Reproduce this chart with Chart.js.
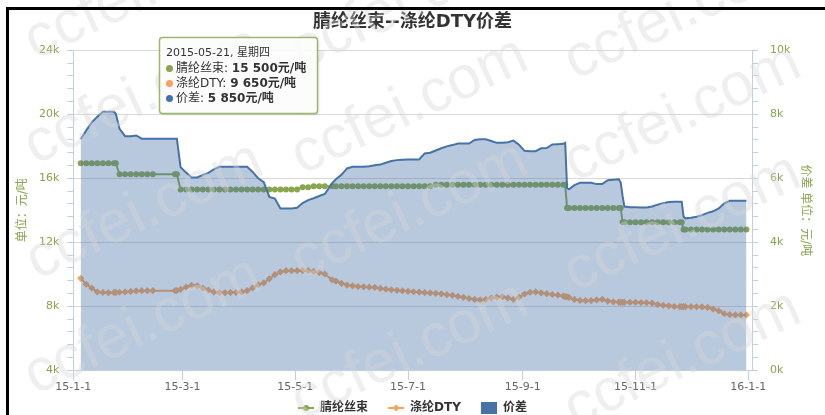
<!DOCTYPE html>
<html>
<head>
<meta charset="utf-8">
<script src="https://cdn.jsdelivr.net/npm/chart.js@4.4.1/dist/chart.umd.min.js"></script>
<style>
  html, body { margin: 0; padding: 0; background: #fff; overflow: hidden; }
  #wrap { position: relative; width: 825px; height: 415px; overflow: hidden; }
  #chart { position: absolute; left: 0; top: 0; }
</style>
</head>
<body>
<div id="wrap"><canvas id="chart" width="825" height="424"></canvas></div>
<script>
const FONT = '"DejaVu Sans", "Noto Sans CJK SC", sans-serif';

const seriesNames = ['腈纶丝束', '涤纶DTY', '价差'];
const seriesColors = ['#89A54E', '#F7A35C', '#4572A7'];
const axisColor = '#89A54E';

// days counted from 2015-01-01
const days = [
  4, 7, 10, 13, 16, 19, 22, 23, 25, 28,
  31, 34, 37, 40, 43, 46, 49, 52, 55, 56,
  58, 61, 64, 67, 70, 73, 76, 79, 82, 85,
  88, 91, 94, 97, 100, 103, 106, 109, 112, 115,
  118, 121, 124, 127, 130, 133, 136, 140, 142, 145,
  148, 151, 154, 157, 160, 163, 166, 169, 172, 175,
  178, 181, 184, 187, 190, 193, 196, 199, 202, 205,
  208, 211, 214, 217, 220, 223, 226, 229, 232, 235,
  238, 241, 244, 247, 250, 253, 256, 259, 262, 265,
  266, 267, 268, 271, 274, 277, 280, 283, 286, 289,
  292, 295, 296, 297, 298, 301, 304, 307, 310, 313,
  316, 319, 322, 325, 328, 329, 330, 331, 334, 337,
  340, 343, 346, 349, 352, 355, 358, 361, 364
];

// 腈纶丝束, 元/吨
const acrylicTow = [
  16950, 16950, 16950, 16950, 16950, 16950, 16950, 16950, 16250, 16250,
  16250, 16250, 16250, 16250, 16250, null, null, null, 16250, 16250,
  15300, 15300, 15300, 15300, 15300, 15300, 15300, 15300, 15300, 15300,
  15300, 15300, 15300, 15300, 15300, 15300, 15300, 15300, 15300, 15300,
  15300, 15300, 15450, 15450, 15500, 15500, 15500, 15500, 15500, 15500,
  15500, 15500, 15500, 15500, 15500, 15500, 15500, 15500, 15500, 15500,
  15500, 15500, 15500, 15500, 15500, 15500, 15600, 15600, 15600, 15600,
  15600, 15600, 15600, 15600, 15600, 15600, 15600, 15600, 15600, 15600,
  15600, 15600, 15600, 15600, 15600, 15600, 15600, 15600, 15600, 15600,
  15600, 14150, 14150, 14150, 14150, 14150, 14150, 14150, 14150, 14150,
  14150, 14150, 14150, 13250, 13250, 13250, 13250, 13250, 13250, 13250,
  13250, 13250, 13250, 13250, 13250, 13250, 12800, 12800, 12800, 12800,
  12800, 12800, 12800, 12800, 12800, 12800, 12800, 12800, 12800
];

// 涤纶DTY, 元/吨
const polyesterDty = [
  9750, 9380, 9140, 8900, 8870, 8850, 8870, 8870, 8880, 8900,
  8930, 8960, 8980, 8980, 8980, null, null, null, 8980, 8990,
  9060, 9200, 9310, 9280, 9140, 9020, 8900, 8870, 8850, 8860,
  8870, 8900, 8980, 9150, 9350, 9460, 9720, 9980, 10150, 10230,
  10230, 10230, 10230, 10230, 10180, 10110, 10020, 9650, 9580, 9440,
  9330, 9280, 9240, 9220, 9200, 9180, 9120, 9070, 9030, 9000,
  8970, 8940, 8910, 8890, 8860, 8840, 8810, 8780, 8730, 8690,
  8620, 8560, 8490, 8430, 8400, 8420, 8520, 8570, 8600, 8520,
  8440, 8580, 8770, 8880, 8900, 8840, 8790, 8740, 8700, 8640,
  8610, 8590, 8560, 8430, 8370, 8350, 8360, 8400, 8440, 8330,
  8280, 8260, 8250, 8250, 8250, 8250, 8250, 8240, 8230, 8200,
  8110, 8060, 8030, 7990, 7980, 7980, 7980, 7980, 7980, 7970,
  7960, 7930, 7830, 7720, 7540, 7480, 7460, 7460, 7460
];

// 价差, 元/吨 (right axis)
const spread = [
  7220, 7500, 7750, 7930, 8080, 8080, 8080, 8020, 7550, 7320,
  7320, 7340, 7240, 7240, 7240, 7240, 7240, 7240, 7240, 7240,
  6350, 6180, 6030, 6030, 6110, 6170, 6280, 6360, 6360, 6360,
  6360, 6360, 6360, 6200, 6000, 5880, 5420, 5370, 5060, 5060,
  5060, 5080, 5230, 5320, 5380, 5450, 5510, 5850, 5970, 6110,
  6310, 6360, 6360, 6360, 6380, 6410, 6430, 6490, 6540, 6570,
  6580, 6590, 6590, 6590, 6780, 6800, 6870, 6940, 7000, 7040,
  7090, 7090, 7090, 7200, 7220, 7220, 7170, 7110, 7110, 7130,
  7180, 7050, 6860, 6850, 6850, 6940, 6950, 7060, 7070, 7080,
  7110, 5700, 5660, 5790, 5860, 5860, 5860, 5820, 5820, 5940,
  5960, 5970, 5870, 5450, 5120, 5100, 5100, 5090, 5090, 5120,
  5180, 5220, 5260, 5270, 5270, 5270, 4800, 4750, 4770, 4800,
  4850, 4920, 4970, 5060, 5220, 5300, 5300, 5300, 5300
];

const tickDays = [0, 59, 120, 181, 243, 304, 365];
const tickLabels = ['15-1-1', '15-3-1', '15-5-1', '15-7-1', '15-9-1', '15-11-1', '16-1-1'];

const tooltipDay = 140;

const watermarkSpots = [
  [28, 45], [28, 150], [30, 265], [28, 380],
  [295, 55], [295, 160], [295, 265], [295, 405],
  [568, 65], [568, 167], [568, 277], [568, 413]
];

function toPoints(values) {
  return days.map((d, i) => ({ x: d, y: values[i] }));
}

function fmt(n) {
  return String(n).replace(/\B(?=(\d{3})+(?!\d))/g, ' ');
}

// legend symbols: 16px wide, drawn on the right half of a 32px canvas
function makeIcon(kind, color) {
  const c = document.createElement('canvas');
  const g = c.getContext('2d');
  c.width = 32;
  if (kind === 'box') {
    c.height = 12;
    g.fillStyle = color;
    g.fillRect(16, 0, 16, 12);
    return c;
  }
  c.height = 8;
  g.strokeStyle = color;
  g.lineWidth = 2;
  g.beginPath(); g.moveTo(16, 4); g.lineTo(32, 4); g.stroke();
  g.fillStyle = color;
  g.beginPath();
  if (kind === 'circle') {
    g.arc(24, 4, 3, 0, Math.PI * 2);
  } else {
    g.moveTo(24, 0.5); g.lineTo(27.5, 4); g.lineTo(24, 7.5); g.lineTo(20.5, 4); g.closePath();
  }
  g.fill();
  return c;
}

const legendIcons = [
  makeIcon('circle', seriesColors[0]),
  makeIcon('diamond', seriesColors[1]),
  makeIcon('box', seriesColors[2])
];

const decorations = {
  id: 'decorations',
  afterLayout(chart) {
    // nudge the legend so the visible symbols sit where the original has them
    chart.legend.left -= 8;
    chart.legend.right -= 8;
  },
  afterDatasetsDraw(chart) {
    const ctx = chart.ctx;
    ctx.save();
    ctx.font = '60px "Liberation Sans", sans-serif';
    ctx.fillStyle = 'rgba(215,215,215,0.4)';
    watermarkSpots.forEach(([x, y]) => {
      ctx.save();
      ctx.translate(x, y);
      ctx.rotate(-25 * Math.PI / 180);
      ctx.fillText('ccfei.com', 0, 0);
      ctx.restore();
    });
    ctx.restore();
  },
  afterDraw(chart) {
    const ctx = chart.ctx;
    ctx.save();

    // tooltip box
    const idx = days.indexOf(tooltipDay);
    const bx = 159.5, by = 37.5, bw = 158, bh = 76;
    ctx.shadowColor = 'rgba(0,0,0,0.18)';
    ctx.shadowOffsetX = 1;
    ctx.shadowOffsetY = 1;
    ctx.shadowBlur = 3;
    ctx.fillStyle = 'rgba(255,255,255,0.92)';
    ctx.beginPath();
    ctx.roundRect(bx, by, bw, bh, 3);
    ctx.fill();
    ctx.shadowColor = 'transparent';
    ctx.strokeStyle = '#9DB86A';
    ctx.lineWidth = 1.5;
    ctx.stroke();

    const d = new Date(Date.UTC(2015, 0, 1 + tooltipDay));
    const wk = ['日', '一', '二', '三', '四', '五', '六'][d.getUTCDay()];
    const dateText = d.getUTCFullYear() + '-' + String(d.getUTCMonth() + 1).padStart(2, '0') + '-' +
      String(d.getUTCDate()).padStart(2, '0') + ', 星期' + wk;
    ctx.textBaseline = 'middle';
    ctx.fillStyle = '#333';
    ctx.font = '11px ' + FONT;
    ctx.fillText(dateText, 166, 53);

    const vals = [acrylicTow[idx], polyesterDty[idx], spread[idx]];
    [68.5, 83.5, 98.5].forEach((y, i) => {
      ctx.fillStyle = seriesColors[i];
      ctx.beginPath();
      ctx.arc(169.5, y, 3.5, 0, Math.PI * 2);
      ctx.fill();
      ctx.fillStyle = '#333';
      ctx.font = '12px ' + FONT;
      const lab = seriesNames[i] + ': ';
      ctx.fillText(lab, 176, y);
      const w = ctx.measureText(lab).width;
      ctx.font = 'bold 12px ' + FONT;
      ctx.fillText(fmt(vals[i]) + '元/吨', 176 + w, y);
    });

    // outer frame
    ctx.fillStyle = '#000';
    ctx.fillRect(6, 7, 819, 3);
    ctx.fillRect(6, 7, 3, 420);
    ctx.restore();
  }
};

new Chart(document.getElementById('chart'), {
  type: 'line',
  data: {
    datasets: [
      {
        label: seriesNames[0],
        data: toPoints(acrylicTow),
        yAxisID: 'y',
        order: 1,
        borderColor: seriesColors[0],
        backgroundColor: seriesColors[0],
        borderWidth: 2,
        pointStyle: 'circle',
        pointRadius: 3,
        pointBorderWidth: 0,
        pointBackgroundColor: seriesColors[0],
        spanGaps: true,
        tension: 0,
        fill: false
      },
      {
        label: seriesNames[1],
        data: toPoints(polyesterDty),
        yAxisID: 'y',
        order: 2,
        borderColor: seriesColors[1],
        backgroundColor: seriesColors[1],
        borderWidth: 2,
        pointStyle: 'rectRot',
        pointRadius: 3.6,
        pointBorderWidth: 0,
        pointBackgroundColor: seriesColors[1],
        spanGaps: true,
        tension: 0,
        fill: false
      },
      {
        label: seriesNames[2],
        data: toPoints(spread),
        yAxisID: 'y1',
        order: 0,
        borderColor: seriesColors[2],
        backgroundColor: 'rgba(69,114,167,0.38)',
        borderWidth: 2,
        pointRadius: 0,
        tension: 0,
        fill: 'start'
      }
    ]
  },
  options: {
    responsive: false,
    animation: false,
    events: [],
    layout: { padding: 0 },
    plugins: {
      title: {
        display: true,
        text: '腈纶丝束--涤纶DTY价差',
        color: '#333',
        font: { family: FONT, size: 18, weight: 'bold' },
        padding: { top: 12, bottom: 16.8 }
      },
      legend: {
        position: 'bottom',
        labels: {
          usePointStyle: true,
          pointStyleWidth: 32,
          padding: 4,
          color: '#333',
          font: { family: FONT, size: 12, weight: 'bold' },
          generateLabels(chart) {
            const items = Chart.defaults.plugins.legend.labels.generateLabels(chart);
            items.forEach(it => { it.pointStyle = legendIcons[it.datasetIndex]; });
            return items.sort((a, b) => a.datasetIndex - b.datasetIndex);
          }
        }
      },
      tooltip: { enabled: false }
    },
    scales: {
      x: {
        type: 'linear',
        min: 0,
        max: 367,
        afterBuildTicks: s => { s.ticks = tickDays.map(v => ({ value: v })); },
        afterFit: s => { s.height = 27.7; },
        grid: { drawOnChartArea: false, drawTicks: true, tickLength: 10, tickColor: '#C0D0E0' },
        border: { color: '#C0D0E0' },
        ticks: {
          autoSkip: false,
          maxRotation: 0,
          padding: 0,
          color: '#666',
          font: { family: FONT, size: 11 },
          callback: v => tickLabels[tickDays.indexOf(v)]
        }
      },
      y: {
        position: 'left',
        min: 4000,
        max: 24000,
        afterFit: s => { s.width = 73.3; },
        ticks: {
          stepSize: 800,
          autoSkip: false,
          padding: 8,
          color: axisColor,
          font: { family: FONT, size: 11 },
          callback: v => (v % 4000 === 0 ? v / 1000 + 'k' : '')
        },
        grid: {
          color: c => (c.tick && c.tick.value % 4000 === 0 ? '#D8D8D8' : 'rgba(0,0,0,0)'),
          tickColor: '#C0D0E0',
          tickLength: 6
        },
        border: { color: '#C0D0E0' },
        title: {
          display: true,
          text: '单位：元/吨',
          color: axisColor,
          font: { family: FONT, size: 12 },
          padding: { top: 15.3, bottom: 0 }
        }
      },
      y1: {
        position: 'right',
        min: 0,
        max: 10000,
        afterFit: s => { s.width = 73; },
        ticks: {
          stepSize: 400,
          autoSkip: false,
          padding: 12,
          color: axisColor,
          font: { family: FONT, size: 11 },
          callback: v => (v % 2000 === 0 ? v / 1000 + 'k' : '')
        },
        grid: { drawOnChartArea: false, tickColor: '#C0D0E0', tickLength: 6 },
        border: { color: '#C0D0E0' },
        title: {
          display: true,
          text: '价差 单位：元/吨',
          color: axisColor,
          font: { family: FONT, size: 12 },
          padding: { top: 12.3, bottom: 0 }
        }
      }
    }
  },
  plugins: [decorations]
});
</script>
</body>
</html>
